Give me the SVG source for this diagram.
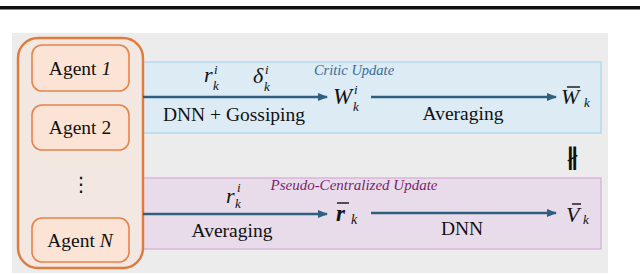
<svg xmlns="http://www.w3.org/2000/svg" width="640" height="274" viewBox="0 0 640 274">
<defs>
<style>
.t{font-family:"Liberation Serif","Times New Roman",serif;fill:#111;}
.lbl{font-size:19.5px;}
.m{font-style:italic;font-size:22px;}
.s{font-style:italic;font-size:13px;}
.ag{fill:#fbe4d5;stroke:#e8834a;stroke-width:1.6;}
.ar{stroke:#2f5f80;stroke-width:2.6;fill:none;marker-end:url(#ah);}
.bar{stroke:#111;stroke-width:1.4;}
</style>
<marker id="ah" markerWidth="10" markerHeight="8" refX="9" refY="4" orient="auto" markerUnits="userSpaceOnUse">
<path d="M0,0 L10,4 L0,8 Z" fill="#2f5f80"/>
</marker>
</defs>
<rect x="0" y="0" width="640" height="274" fill="#fff"/>
<rect x="0" y="6" width="640" height="3" fill="#111"/>
<rect x="0" y="9" width="640" height="1" fill="#888"/>
<rect x="12" y="33" width="596" height="240" fill="#ececec"/>

<g id="critic-band">
<rect x="138" y="62" width="463" height="71" fill="#dcebf4" stroke="#a8d6ee" stroke-width="1.2"/>
<text class="t" x="354" y="75" text-anchor="middle" style="font-style:italic;font-size:14.5px;fill:#3a6a94">Critic Update</text>
</g>
<g id="pseudo-band">
<rect x="138" y="178" width="463" height="71" fill="#e9dcea" stroke="#d7a8d8" stroke-width="1.2"/>
<text class="t" x="354" y="190" text-anchor="middle" style="font-style:italic;font-size:15px;fill:#7a1f6e">Pseudo-Centralized Update</text>
</g>

<g id="agents">
<rect x="18" y="38" width="125" height="230" rx="20" fill="#f2e7e1" stroke="#e07b3c" stroke-width="2.4"/>
<g id="agent1">
<rect class="ag" x="32" y="45" width="97" height="46" rx="10"/>
<text class="t lbl" x="80" y="75" text-anchor="middle">Agent <tspan font-style="italic">1</tspan></text>
</g>
<g id="agent2">
<rect class="ag" x="32" y="105" width="97" height="45" rx="10"/>
<text class="t lbl" x="80" y="134" text-anchor="middle">Agent 2</text>
</g>
<g id="dots">
<text class="t" x="81" y="191" text-anchor="middle" style="font-family:'DejaVu Sans',sans-serif;font-size:20px">⋮</text>
</g>
<g id="agentN">
<rect class="ag" x="32" y="218" width="97" height="44" rx="10"/>
<text class="t lbl" x="80" y="247" text-anchor="middle">Agent <tspan font-style="italic">N</tspan></text>
</g>
</g>

<g id="connectors">
<line class="ar" x1="143" y1="97" x2="327" y2="97"/>
<line class="ar" x1="371" y1="97" x2="556" y2="97"/>
<line class="ar" x1="143" y1="214" x2="327" y2="214"/>
<line class="ar" x1="371" y1="213" x2="556" y2="213"/>
</g>

<g id="critic-labels">
<text class="t m" x="204" y="82">r</text>
<text class="t s" x="214" y="74">i</text>
<text class="t s" x="213" y="90">k</text>
<text class="t m" x="253" y="83">δ</text>
<text class="t s" x="265" y="74">i</text>
<text class="t s" x="264" y="91">k</text>
<text class="t lbl" x="234" y="121" text-anchor="middle">DNN + Gossiping</text>
<text class="t lbl" x="463" y="120" text-anchor="middle">Averaging</text>
</g>
<g id="Wki">
<text class="t m" x="333" y="104" style="font-size:23px">W</text>
<text class="t s" x="354" y="94">i</text>
<text class="t s" x="353" y="111">k</text>
</g>
<g id="Wbar">
<text class="t m" x="561" y="104">W</text>
<line class="bar" x1="567" y1="87" x2="580" y2="87"/>
<text class="t s" x="584" y="107">k</text>
</g>

<g id="pseudo-labels">
<text class="t m" x="226" y="203">r</text>
<text class="t s" x="237" y="192">i</text>
<text class="t s" x="235" y="208">k</text>
<text class="t lbl" x="232" y="237" text-anchor="middle">Averaging</text>
<text class="t lbl" x="462" y="235" text-anchor="middle">DNN</text>
</g>
<g id="rbar">
<text class="t m" x="336" y="221" style="font-weight:bold;font-size:23px">r</text>
<line class="bar" x1="337" y1="203" x2="349" y2="203" stroke-width="1.8"/>
<text class="t s" x="351" y="224" style="font-size:14px">k</text>
</g>
<g id="Vbar">
<text class="t m" x="566" y="222">V</text>
<line class="bar" x1="572" y1="204" x2="581" y2="204"/>
<text class="t s" x="583" y="224">k</text>
</g>

<g id="not-parallel">
<text class="t" x="572" y="165" text-anchor="middle" style="font-family:'DejaVu Sans',sans-serif;font-size:24px;font-weight:bold">∦</text>
</g>
</svg>
